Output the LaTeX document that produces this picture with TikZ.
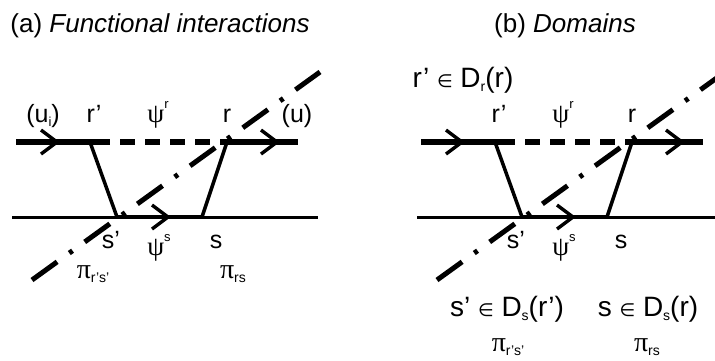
\documentclass[tikz,border=0pt]{standalone}
\usepackage{fontspec}
\setmainfont{Liberation Sans}
\newfontfamily\grk{Liberation Serif}
\newfontfamily\symf{DejaVu Sans}
\newcommand\mysub[2][14]{\raisebox{-4pt}{\fontsize{#1}{#1}\selectfont #2}}
\newcommand\mysup[1]{\raisebox{14pt}{\fontsize{13}{13}\selectfont #1}}
\newcommand\elem{{\symf\fontsize{18}{18}\selectfont ∈}}
\newcommand\gpsi{{\grk\fontsize{27}{27}\selectfont ψ}}
\newcommand\gpi{{\grk\fontsize{28}{28}\selectfont π}}
\begin{document}
\begin{tikzpicture}[x=1pt,y=-1pt,
  thickln/.style={line width=6.5pt},
  dashedln/.style={line width=6.5pt, dash pattern=on 15pt off 10pt, dash phase=15pt},
  thinln/.style={line width=3pt},
  midln/.style={line width=4.5pt},
  slantln/.style={line width=3.5pt},
  dashdotln/.style={line width=5pt, dash pattern=on 31pt off 15pt on 4pt off 15pt},
  chev/.pic={\draw[line width=3.4pt, line join=miter] (-16,-12) -- (0,0) -- (-16,12);},
  lbl/.style={inner sep=0pt, anchor=base, font=\fontsize{25}{28}\selectfont},
  ttl/.style={inner sep=0pt, anchor=base, font=\fontsize{26}{30}\selectfont},
  dom/.style={inner sep=0pt, anchor=base, font=\fontsize{28}{32}\selectfont}
]
\useasboundingbox (0,0) rectangle (715,360);
\clip (0,0) rectangle (715,360);

\foreach \p/\dx in {a/0,b/405}{
  \begin{scope}[shift={(\dx,0)}]
    \coordinate (\p-ul) at (16,142);
    \coordinate (\p-rp) at (90,142);
    \coordinate (\p-ds) at (110,142);
    \coordinate (\p-r)  at (227,142);
    \coordinate (\p-ur) at (298,142);
    \coordinate (\p-sp) at (117,217);
    \coordinate (\p-s)  at (202,217);
    \coordinate (\p-bl) at (12,217);
    \coordinate (\p-br) at (318,217);
    \coordinate (\p-d1) at (32,280);
    \coordinate (\p-d2) at (320,72);
    % top line
    \draw[thickln] (\p-ul) -- (\p-ds);
    \draw[dashedln] (\p-ds) -- (\p-r);
    \draw[thickln] (\p-r) -- (\p-ur);
    % bottom line
    \draw[thinln] (\p-bl) -- (\p-br);
    \draw[midln] (\p-sp) -- (\p-s);
    % slanted links
    \draw[slantln] (\p-rp) -- (\p-sp);
    \draw[slantln] (\p-r) -- (\p-s);
    % arrowheads
    \pic at (57,142) {chev};
    \pic at (277,142) {chev};
    \pic at (168,217) {chev};
    % dash-dot line
    \draw[dashdotln] (\p-d1) -- (\p-d2);
    % shared labels
    \node[lbl] (\p-lrp) at (94,122) {r’};
    \node[lbl] (\p-lpsir) at (158,122) {\gpsi\mysup{r}};
    \node[lbl] (\p-lr) at (227,122) {r};
    \node[lbl] (\p-lsp) at (111,248) {s’};
    \node[lbl] (\p-lpsis) at (159,255) {\gpsi\mysup{s}};
    \node[lbl] (\p-ls) at (216,248) {s};
  \end{scope}
}

% panel (a) labels
\node[ttl] (ta) at (160,32) {(a) \textit{Functional interactions}};
\node[lbl] (a-lui) at (43,122) {(u\mysub[13]{i})};
\node[lbl] (a-lu) at (297,122) {(u)};
\node[lbl] (a-pi1) at (93,278) {\gpi\mysub{r’s’}};
\node[lbl] (a-pi2) at (233,278) {\gpi\mysub{rs}};

% panel (b) labels
\node[ttl] (tb) at (565,32) {(b) \textit{Domains}};
\node[dom] (b-dr) at (463,87) {r’ \elem{} D\mysub{r}(r)};
\node[dom] (b-ds1) at (507,316) {s’ \elem{} D\mysub{s}(r’)};
\node[dom] (b-ds2) at (648,316) {s \elem{} D\mysub{s}(r)};
\node[lbl] (b-pi1) at (508,351) {\gpi\mysub{r’s’}};
\node[lbl] (b-pi2) at (647,351) {\gpi\mysub{rs}};
\end{tikzpicture}
\end{document}
